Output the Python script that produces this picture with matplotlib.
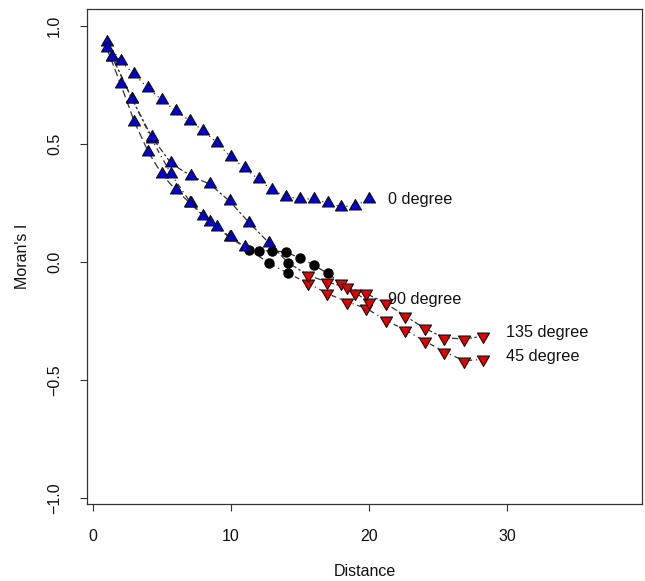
import matplotlib
matplotlib.use("Agg")
import matplotlib.pyplot as plt
import numpy as np

plt.rcParams['font.family'] = ['Liberation Sans', 'DejaVu Sans']

# ---- data ----
dist_axis = [1, 2, 3, 4, 5, 6, 7, 8, 9, 10, 11, 12, 13, 14, 15, 16, 17, 18, 19, 20]
dist_diag = [1.41, 2.83, 4.24, 5.66, 7.07, 8.49, 9.90, 11.31, 12.73, 14.14,
             15.56, 16.97, 18.38, 19.80, 21.21, 22.63, 24.04, 25.46, 26.87, 28.28]

moran_0 = [0.933, 0.851, 0.795, 0.736, 0.686, 0.640, 0.599, 0.556, 0.505, 0.444,
           0.397, 0.350, 0.305, 0.277, 0.268, 0.267, 0.251, 0.234, 0.239, 0.266]
moran_90 = [0.906, 0.754, 0.594, 0.467, 0.371, 0.305, 0.252, 0.195, 0.147, 0.104,
            0.065, 0.048, 0.048, 0.042, 0.017, -0.013, -0.048, -0.088, -0.130, -0.169]
moran_135 = [0.867, 0.691, 0.531, 0.418, 0.366, 0.329, 0.258, 0.167, 0.082, -0.003,
             -0.055, -0.085, -0.107, -0.133, -0.175, -0.229, -0.281, -0.321, -0.326, -0.314]
moran_45 = [0.867, 0.691, 0.522, 0.372, 0.252, 0.169, 0.104, 0.051, -0.003, -0.048,
            -0.089, -0.133, -0.168, -0.196, -0.246, -0.288, -0.335, -0.380, -0.418, -0.412]

# significance class: 'p' positive significant, 'n' negative significant, 's' not significant
sig_0 = ['p'] * 20
sig_90 = ['p'] * 11 + ['s'] * 6 + ['n'] * 3
sig_135 = ['p'] * 9 + ['s'] + ['n'] * 10
sig_45 = ['p'] * 7 + ['s'] * 3 + ['n'] * 10

labels = ['0 degree', '90 degree', '135 degree', '45 degree']
label_x = [21.4, 21.4, 29.9, 29.9]
label_y = [0.267, -0.157, -0.30, -0.40]

# ---- figure ----
W, H = 645, 581
fig = plt.figure(figsize=(W / 100, H / 100), dpi=100)
ax = fig.add_axes([87 / W, 1 - 504 / H, (642 - 87) / W, (504 - 9) / H])

tri_up = [(0, 1), (-0.866, -0.5), (0.866, -0.5), (0, 1)]
tri_dn = [(0, -1), (-0.866, 0.5), (0.866, 0.5), (0, -1)]

series = [
    (dist_axis, moran_0, sig_0, (0, (1, 3))),
    (dist_diag, moran_45, sig_45, (0, (1, 3, 4, 3))),
    (dist_axis, moran_90, sig_90, (0, (6, 3))),
    (dist_diag, moran_135, sig_135, (0, (2, 2, 5, 2))),
]

for xs, ys, sg, ls in series:
    ax.plot(xs, ys, linestyle=ls, color='#333333', lw=0.9, zorder=2)
    xs = np.array(xs); ys = np.array(ys); sg = np.array(sg)
    m = sg == 'p'
    ax.plot(xs[m], ys[m], linestyle='none', marker=tri_up, ms=10,
            mfc='#0000d0', mec='#101010', mew=0.8, zorder=3)
    m = sg == 'n'
    ax.plot(xs[m], ys[m], linestyle='none', marker=tri_dn, ms=10,
            mfc='#e00000', mec='#101010', mew=0.8, zorder=3)
    m = sg == 's'
    ax.plot(xs[m], ys[m], linestyle='none', marker='o', ms=6.5,
            mfc='black', mec='black', zorder=3)

for t, lx, ly in zip(labels, label_x, label_y):
    ax.text(lx, ly, t, ha='left', va='center', fontsize=11.7, color='#111111', zorder=4)

ax.set_xlim(-0.435, 39.78)
ax.set_ylim(-1.025, 1.072)
ax.set_xticks([0, 10, 20, 30])
ax.set_yticks([-1.0, -0.5, 0.0, 0.5, 1.0])
ax.set_yticklabels(['\u22121.0', '\u22120.5', '0.0', '0.5', '1.0'], rotation=90, va='center')
ax.tick_params(axis='both', direction='out', length=5, width=0.8, color='#333333',
               labelsize=11.5, labelcolor='#111111', pad=13)
for s in ax.spines.values():
    s.set_linewidth(0.9)
    s.set_color('#333333')

ax.set_xlabel('Distance', fontsize=11.5, color='#111111', va='center')
ax.xaxis.set_label_coords(0.5, -(572 - 504) / 495)
ax.set_ylabel("Moran's I", fontsize=11.5, color='#111111', va='center')
ax.yaxis.set_label_coords((22 - 87) / 555, 0.5)

fig.savefig('out.png', dpi=100)
